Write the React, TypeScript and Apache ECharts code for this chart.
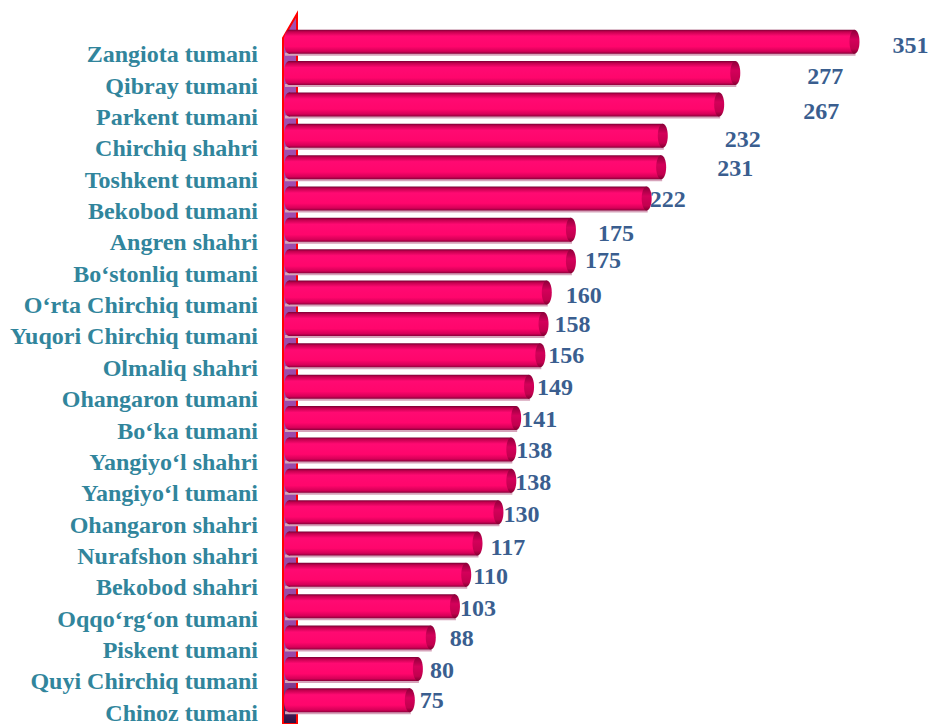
import React, { useEffect, useRef } from "react";
import * as echarts from "echarts";

const categories = [
  "Zangiota tumani",
  "Qibray tumani",
  "Parkent tumani",
  "Chirchiq shahri",
  "Toshkent tumani",
  "Bekobod tumani",
  "Angren shahri",
  "Bo‘stonliq tumani",
  "O‘rta Chirchiq tumani",
  "Yuqori Chirchiq tumani",
  "Olmaliq shahri",
  "Ohangaron tumani",
  "Bo‘ka tumani",
  "Yangiyo‘l shahri",
  "Yangiyo‘l tumani",
  "Ohangaron shahri",
  "Nurafshon shahri",
  "Bekobod shahri",
  "Oqqo‘rg‘on tumani",
  "Piskent tumani",
  "Quyi Chirchiq tumani",
  "Chinoz tumani",
];

const values = [351, 277, 267, 232, 231, 222, 175, 175, 160, 158, 156, 149, 141, 138, 138, 130, 117, 110, 103, 88, 80, 75];

// label nudges (style only), in px relative to bar end
const labelDx = [33, 67, 79, 57, 51, -2, 22, 9, 14, 6, 3, 3, 0, 0, -1, 0, 8, 2, 0, 14, 7, 5];
const labelDy = [3, 3, 7, 3, 1, 0, 3, -1, 2, 0, 0, 0, 1, 1, 1, 2, 3, 1, 2, 0, 1, 0];

const FONT = "Liberation Serif";

export default function App() {
  const ref = useRef<HTMLDivElement>(null);

  useEffect(() => {
    if (!ref.current) return;
    const chart = echarts.init(ref.current, null, { renderer: "svg" });

    const bodyGrad = () =>
      new echarts.graphic.LinearGradient(0, 0, 0, 1, [
        { offset: 0, color: "#780034" },
        { offset: 0.09, color: "#c4004f" },
        { offset: 0.27, color: "#ff0a72" },
        { offset: 0.7, color: "#ff066c" },
        { offset: 0.9, color: "#d60058" },
        { offset: 1, color: "#8a003a" },
      ]);
    const endGrad = () =>
      new echarts.graphic.LinearGradient(0, 0, 0, 1, [
        { offset: 0, color: "#8a0038" },
        { offset: 0.4, color: "#d4005a" },
        { offset: 0.8, color: "#c2004e" },
        { offset: 1, color: "#800030" },
      ]);

    const option: any = {
      animation: false,
      grid: { left: 289, right: 60, top: 26, bottom: 8, containLabel: false },
      xAxis: {
        type: "value",
        min: 0,
        max: 360,
        show: false,
      },
      yAxis: {
        type: "category",
        data: categories,
        inverse: true,
        axisLine: { show: false },
        axisTick: { show: false },
        splitLine: { show: false },
        axisLabel: { show: false },
      },
      graphic: [
        {
          type: "polygon",
          z: 0,
          silent: true,
          shape: {
            points: [
              [283, 724],
              [283, 38],
              [297, 14],
              [297, 724],
            ],
          },
          style: {
            fill: new echarts.graphic.LinearGradient(0, 0, 0, 1, [
              { offset: 0, color: "#a24fb0" },
              { offset: 0.93, color: "#9848a6" },
              { offset: 1, color: "#2a1242" },
            ]),
            stroke: "#ff0000",
            lineWidth: 2,
          },
        },
      ],
      series: [
        {
          type: "custom",
          z: 5,
          encode: { x: 0, y: 1 },
          data: values.map((v, i) => [v, i]),
          renderItem: (params: any, api: any) => {
            const v = api.value(0);
            const idx = api.value(1);
            const p0 = api.coord([0, idx]);
            const p1 = api.coord([v, idx]);
            const h = 24;
            const rx = 5;
            const cy = p0[1];
            const x0 = p0[0];
            const x1 = p1[0];
            const i = params.dataIndex;
            return {
              type: "group",
              children: [
                {
                  type: "rect",
                  shape: { x: x0 - rx + 1, y: cy + h / 2 - 1, width: x1 - x0 + rx, height: 3 },
                  style: { fill: "#d6a3ba" },
                },
                {
                  type: "ellipse",
                  shape: { cx: x0, cy: cy, rx: rx, ry: h / 2 },
                  style: { fill: bodyGrad() },
                },
                {
                  type: "rect",
                  shape: { x: x0, y: cy - h / 2, width: x1 - x0, height: h },
                  style: { fill: bodyGrad() },
                },
                {
                  type: "ellipse",
                  shape: { cx: x1, cy: cy, rx: rx, ry: h / 2 },
                  style: { fill: endGrad() },
                },
                {
                  type: "text",
                  x: x1 + rx + labelDx[i],
                  y: cy + labelDy[i],
                  style: {
                    text: String(v),
                    fill: "#3A5E8F",
                    fontFamily: FONT,
                    fontWeight: "bold",
                    fontSize: 24,
                    align: "left",
                    verticalAlign: "middle",
                  },
                },
                {
                  type: "text",
                  x: x0 - 31,
                  y: cy + 12.5,
                  style: {
                    text: categories[idx],
                    fill: "#31859C",
                    fontFamily: FONT,
                    fontWeight: "bold",
                    fontSize: 24,
                    align: "right",
                    verticalAlign: "middle",
                  },
                },
              ],
            };
          },
        },
      ],
    };

    chart.setOption(option);
    return () => chart.dispose();
  }, []);

  return (
    <div
      ref={ref}
      style={{ position: "absolute", left: 0, top: 0, width: 929, height: 724, background: "#fff" }}
    />
  );
}
